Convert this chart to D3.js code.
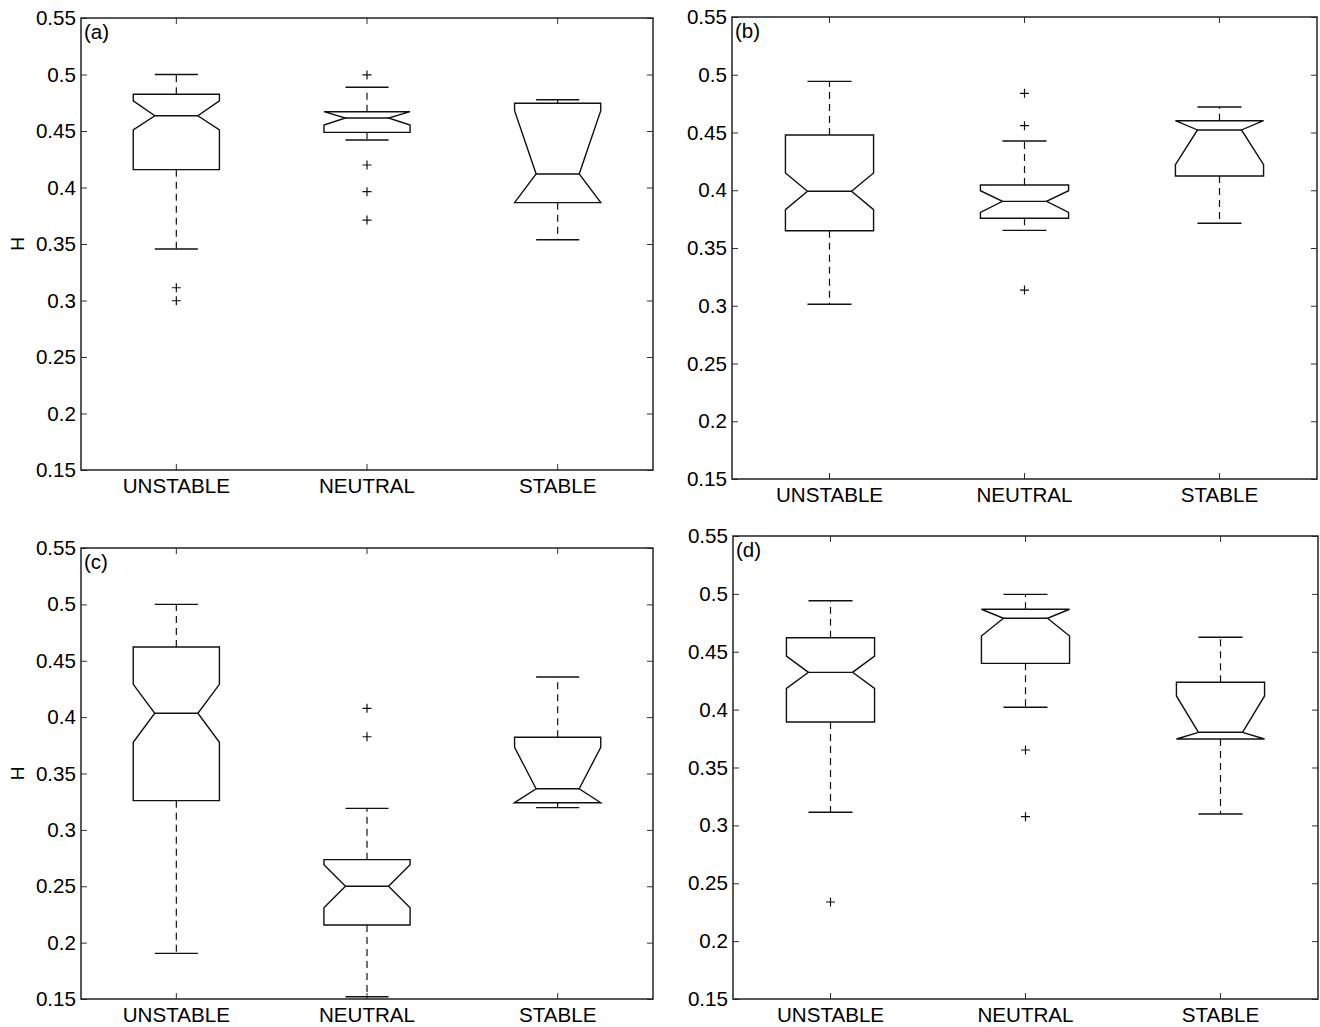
<!DOCTYPE html>
<html>
<head>
<meta charset="utf-8">
<script src="https://cdn.jsdelivr.net/npm/d3@7"></script>
<style>
  body { margin: 0; background: #fff; }
  svg { display: block; }
  text { font-family: "Liberation Sans", Arial, Helvetica, sans-serif; fill: #000; }
</style>
</head>
<body>
<svg id="chart" width="1320" height="1027"></svg>
<script>
// Hurst exponent H by stability class, four sites (a)-(d)
const categories = ["UNSTABLE", "NEUTRAL", "STABLE"];
const panelLabels = ["(a)", "(b)", "(c)", "(d)"];
const yLabel = "H";
const yTicks = [0.15, 0.2, 0.25, 0.3, 0.35, 0.4, 0.45, 0.5, 0.55];
const yTickLabels = ["0.15", "0.2", "0.25", "0.3", "0.35", "0.4", "0.45", "0.5", "0.55"];

// One row per panel, one entry per stability class
const whiskerHigh = [
  [0.500, 0.4887, 0.4777],
  [0.4943, 0.4426, 0.4721],
  [0.500, 0.3191, 0.4356],
  [0.4941, 0.4996, 0.4625]
];
const upperQuartile = [
  [0.4825, 0.4671, 0.4745],
  [0.4478, 0.4045, 0.4602],
  [0.4622, 0.2736, 0.3821],
  [0.4621, 0.4867, 0.4236]
];
const notchHigh = [
  [0.4766, 0.4671, 0.468],
  [0.4149, 0.3996, 0.4602],
  [0.4291, 0.2691, 0.3732],
  [0.4463, 0.4867, 0.4118]
];
const medians = [
  [0.4635, 0.4615, 0.412],
  [0.3991, 0.3904, 0.4522],
  [0.4034, 0.2500, 0.3365],
  [0.4322, 0.4789, 0.3804]
];
const notchLow = [
  [0.4509, 0.4553, 0.3866],
  [0.3832, 0.3809, 0.4221],
  [0.3777, 0.2310, 0.3241],
  [0.4184, 0.4636, 0.3746]
];
const lowerQuartile = [
  [0.4158, 0.4488, 0.3866],
  [0.3650, 0.3757, 0.4123],
  [0.3259, 0.2156, 0.3241],
  [0.3893, 0.4400, 0.3746]
];
const whiskerLow = [
  [0.3456, 0.442, 0.3538],
  [0.3013, 0.3653, 0.3714],
  [0.1905, 0.152, 0.3197],
  [0.3113, 0.402, 0.3098]
];
const outliers = [
  [[0.3113, 0.2998], [0.4996, 0.4199, 0.3963, 0.3712], []],
  [[], [0.4839, 0.4559, 0.3136], []],
  [[], [0.4078, 0.3826], []],
  [[0.2338], [0.3651, 0.3075], []]
];

// Plot rectangles for the 2x2 grid
const panels = [
  { left: 81,  right: 653,  top: 18,  bottom: 470, showYLabel: true },
  { left: 732, right: 1317, top: 17,  bottom: 479, showYLabel: false },
  { left: 81,  right: 653,  top: 548, bottom: 999, showYLabel: true },
  { left: 733, right: 1318, top: 536, bottom: 999, showYLabel: false }
];

const ink = "#111";
const svg = d3.select("#chart");

panels.forEach((p, pi) => {
  const g = svg.append("g");
  const x = d3.scaleBand().domain(categories).range([p.left, p.right]);
  const y = d3.scaleLinear().domain([0.15, 0.55]).range([p.bottom, p.top]);
  const bw = x.bandwidth();
  const half = bw * 0.226;
  const cx = c => x(c) + bw / 2;

  // axes with inward ticks on all four sides
  const left = g.append("g").attr("transform", `translate(${p.left},0)`)
    .call(d3.axisLeft(y).tickValues(yTicks).tickSizeInner(-6).tickSizeOuter(0)
      .tickPadding(5).tickFormat((d, i) => yTickLabels[i]));
  const right = g.append("g").attr("transform", `translate(${p.right},0)`)
    .call(d3.axisRight(y).tickValues(yTicks).tickSizeInner(-6).tickSizeOuter(0).tickFormat(""));
  const bottom = g.append("g").attr("transform", `translate(0,${p.bottom})`)
    .call(d3.axisBottom(x).tickSizeInner(-6).tickSizeOuter(0).tickPadding(8));
  const top = g.append("g").attr("transform", `translate(0,${p.top})`)
    .call(d3.axisTop(x).tickSizeInner(-6).tickSizeOuter(0).tickFormat(""));

  [left, right, bottom, top].forEach(a => {
    a.select(".domain").remove();
    a.selectAll(".tick line").attr("stroke", "#333").attr("stroke-width", 1);
    a.selectAll(".tick text").attr("font-size", 20.6).attr("fill", "#000")
      .attr("font-family", "\"Liberation Sans\", Arial, sans-serif");
  });

  g.append("rect")
    .attr("x", p.left).attr("y", p.top)
    .attr("width", p.right - p.left).attr("height", p.bottom - p.top)
    .attr("fill", "none").attr("stroke", "#222").attr("stroke-width", 1.5);

  g.append("text")
    .attr("x", p.left + 3).attr("y", p.top + 21)
    .attr("font-size", 20.5)
    .text(panelLabels[pi]);

  if (p.showYLabel) {
    g.append("text")
      .attr("transform", `translate(24,${(p.top + p.bottom) / 2}) rotate(-90)`)
      .attr("text-anchor", "middle")
      .attr("font-size", 19)
      .text(yLabel);
  }

  const line = d3.line();

  categories.forEach((cat, ci) => {
    const c = cx(cat);
    const wHi = whiskerHigh[pi][ci], q3 = upperQuartile[pi][ci], nHi = notchHigh[pi][ci];
    const med = medians[pi][ci], nLo = notchLow[pi][ci], q1 = lowerQuartile[pi][ci];
    const wLo = whiskerLow[pi][ci];

    // dashed whiskers
    g.append("path")
      .attr("d", line([[c, y(q3)], [c, y(wHi)]]))
      .attr("stroke", ink).attr("stroke-width", 1.2).attr("stroke-dasharray", "7,5").attr("fill", "none");
    g.append("path")
      .attr("d", line([[c, y(q1)], [c, y(wLo)]]))
      .attr("stroke", ink).attr("stroke-width", 1.2).attr("stroke-dasharray", "7,5").attr("fill", "none");

    // whisker caps
    [wHi, wLo].forEach(v => {
      g.append("path")
        .attr("d", line([[c - half / 2, y(v)], [c + half / 2, y(v)]]))
        .attr("stroke", ink).attr("stroke-width", 1.4).attr("fill", "none");
    });

    // notched box outline
    const outline = [
      [c - half, y(q1)], [c - half, y(nLo)], [c - half / 2, y(med)],
      [c - half, y(nHi)], [c - half, y(q3)], [c + half, y(q3)],
      [c + half, y(nHi)], [c + half / 2, y(med)], [c + half, y(nLo)],
      [c + half, y(q1)]
    ];
    g.append("path")
      .attr("d", line(outline) + "Z")
      .attr("stroke", ink).attr("stroke-width", 1.4).attr("fill", "none")
      .attr("stroke-linejoin", "miter");

    // median line
    g.append("path")
      .attr("d", line([[c - half / 2, y(med)], [c + half / 2, y(med)]]))
      .attr("stroke", ink).attr("stroke-width", 1.4).attr("fill", "none");

    // outlier markers
    outliers[pi][ci].forEach(v => {
      const yy = y(v);
      g.append("path")
        .attr("d", `M${c - 4.5},${yy}H${c + 4.5}M${c},${yy - 4.5}V${yy + 4.5}`)
        .attr("stroke", ink).attr("stroke-width", 1.2).attr("fill", "none");
    });
  });
});
</script>
</body>
</html>
